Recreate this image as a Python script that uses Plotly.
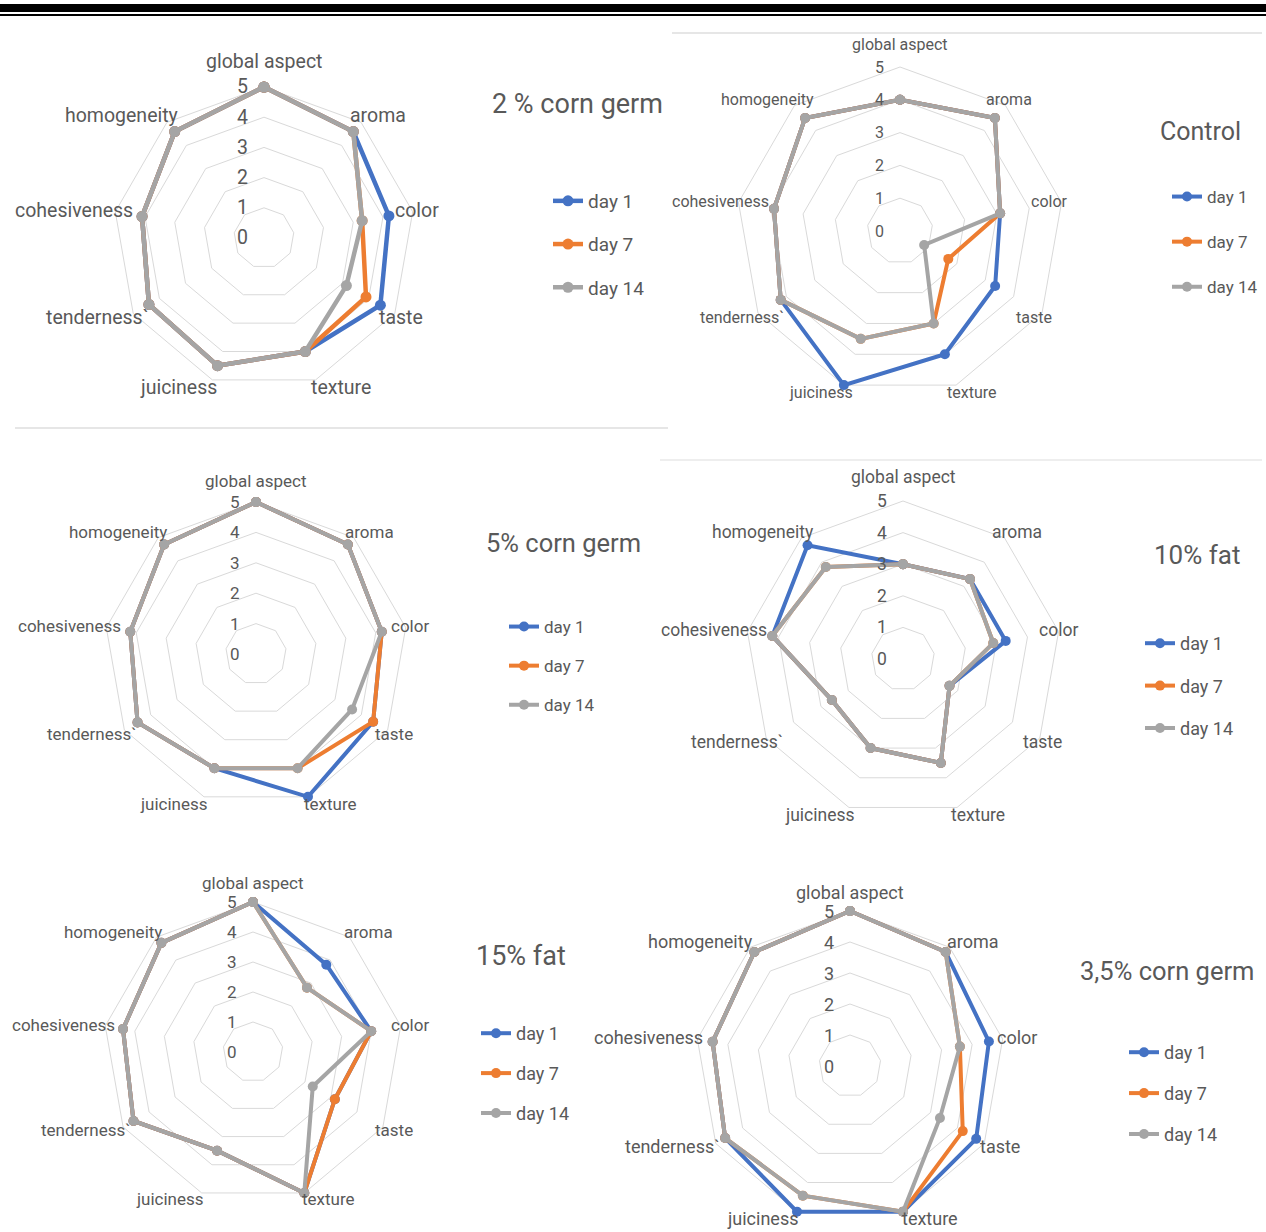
import math
import plotly.graph_objects as go

W, H = 1266, 1232

categories = ["global aspect", "aroma", "color", "taste", "texture",
              "juiciness", "tenderness`", "cohesiveness", "homogeneity"]
days = ["day 1", "day 7", "day 14"]
colors = ["#4472C4", "#ED7D31", "#A5A5A5"]
radial_ticks = [0, 1, 2, 3, 4, 5]
RMAX = 5.12  # a little head-room so lines at 5 are not clipped

# 2 % corn germ
cg2_day1 = [5, 4.6, 4.2, 4.45, 4.0, 4.5, 4.4, 4.1, 4.6]
cg2_day7 = [5, 4.6, 3.3, 3.9, 4.0, 4.5, 4.4, 4.1, 4.6]
cg2_day14 = [5, 4.6, 3.3, 3.15, 4.0, 4.5, 4.4, 4.1, 4.6]

# Control
ctl_day1 = [4.0, 4.5, 3.1, 3.35, 4.0, 5.0, 4.2, 3.9, 4.5]
ctl_day7 = [4.0, 4.5, 3.1, 1.7, 3.0, 3.5, 4.2, 3.9, 4.5]
ctl_day14 = [4.0, 4.5, 3.1, 0.85, 3.0, 3.5, 4.2, 3.9, 4.5]

# 5% corn germ
cg5_day1 = [5, 4.7, 4.2, 4.45, 5.0, 4.0, 4.5, 4.2, 4.7]
cg5_day7 = [5, 4.7, 4.2, 4.45, 4.0, 4.0, 4.5, 4.2, 4.7]
cg5_day14 = [5, 4.7, 4.2, 3.65, 4.0, 4.0, 4.5, 4.2, 4.7]

# 10% fat
f10_day1 = [3.0, 3.3, 3.3, 1.7, 3.5, 3.0, 2.6, 4.2, 4.7]
f10_day7 = [3.0, 3.3, 2.9, 1.7, 3.5, 3.0, 2.6, 4.2, 3.8]
f10_day14 = [3.0, 3.3, 2.9, 1.7, 3.5, 3.0, 2.6, 4.2, 3.8]

# 15% fat
f15_day1 = [5, 3.8, 4.0, 3.15, 5.0, 3.5, 4.6, 4.4, 4.75]
f15_day7 = [5, 2.8, 4.0, 3.15, 5.0, 3.5, 4.6, 4.4, 4.75]
f15_day14 = [5, 2.8, 4.0, 2.3, 5.0, 3.5, 4.6, 4.4, 4.75]

# 3,5% corn germ
cg35_day1 = [5, 4.8, 4.55, 4.7, 5.0, 5.0, 4.65, 4.5, 4.8]
cg35_day7 = [5, 4.8, 3.6, 4.2, 5.0, 4.45, 4.65, 4.5, 4.8]
cg35_day14 = [5, 4.8, 3.6, 3.35, 5.0, 4.45, 4.65, 4.5, 4.8]

titles = ["2 % corn germ", "Control", "5% corn germ", "10% fat", "15% fat", "3,5% corn germ"]
series = [
    [cg2_day1, cg2_day7, cg2_day14],
    [ctl_day1, ctl_day7, ctl_day14],
    [cg5_day1, cg5_day7, cg5_day14],
    [f10_day1, f10_day7, f10_day14],
    [f15_day1, f15_day7, f15_day14],
    [cg35_day1, cg35_day7, cg35_day14],
]

# panel geometry in pixels (center, radius of ring 5), fonts, title and legend placement,
# kx / ky / kt: Excel-style category label offsets as fractions of the ring-5 radius
panels = [
    dict(cx=264, cy=238, R=151, fs=19.5, tx=577, ty=104, ts=27, lx=548, ly=182, lf=19, gap=15.5,
         lw=4.5, ms=11, kx=0.865, ky=1.055, kt=1.17),
    dict(cx=900, cy=231, R=164, fs=16, tx=1200, ty=132, ts=25, lx=1167, ly=179, lf=17, gap=20,
         lw=4.0, ms=10, kx=0.80, ky=1.05, kt=1.135),
    dict(cx=256, cy=654, R=152, fs=17, tx=563, ty=543, ts=25.5, lx=504, ly=609, lf=17, gap=14,
         lw=4.0, ms=10, kx=0.89, ky=1.05, kt=1.14),
    dict(cx=903, cy=659, R=158, fs=17.5, tx=1197, ty=555, ts=26, lx=1140, ly=625, lf=18, gap=16,
         lw=4.0, ms=10, kx=0.86, ky=1.05, kt=1.15),
    dict(cx=253, cy=1052, R=150, fs=17, tx=521, ty=956, ts=27, lx=476, ly=1015, lf=18, gap=13.5,
         lw=4.0, ms=10, kx=0.92, ky=1.04, kt=1.13),
    dict(cx=850, cy=1066, R=155, fs=18, tx=1167, ty=971, ts=25.5, lx=1124, ly=1034, lf=18, gap=14.5,
         lw=4.0, ms=10, kx=0.95, ky=1.045, kt=1.12),
]

FONT = "Roboto, Open Sans, sans-serif"
TXT = "#595959"
GRID = "#D9D9D9"

fig = go.Figure()
layout_updates = {}
annotations = []


def px(x):
    return x / W


def py(y):
    return 1 - y / H


for i, (p, data) in enumerate(zip(panels, series)):
    pid = "polar" if i == 0 else f"polar{i+1}"
    lid = "legend" if i == 0 else f"legend{i+1}"
    for j, vals in enumerate(data):
        fig.add_trace(go.Scatterpolar(
            r=vals + [vals[0]],
            theta=categories + [categories[0]],
            mode="lines+markers",
            name=days[j],
            line=dict(color=colors[j], width=p["lw"]),
            marker=dict(color=colors[j], size=p["ms"]),
            cliponaxis=False,
            subplot=pid,
            legend=lid,
            legendgroup=f"{i}_{j}",
            showlegend=True,
        ))
    cx, cy, R = p["cx"], p["cy"], p["R"]
    Rd = R * RMAX / 5
    layout_updates[pid] = dict(
        domain=dict(x=[px(cx - Rd), px(cx + Rd)], y=[py(cy + Rd), py(cy - Rd)]),
        gridshape="linear",
        bgcolor="rgba(0,0,0,0)",
        radialaxis=dict(
            range=[0, RMAX], tickvals=radial_ticks, angle=90,
            showline=False, ticks="", showticklabels=False,
            gridcolor=GRID, gridwidth=1,
        ),
        angularaxis=dict(
            categoryorder="array", categoryarray=categories,
            rotation=90, direction="clockwise",
            showgrid=False, showline=False,
            ticks="", showticklabels=False,
        ),
    )
    layout_updates[lid] = dict(
        x=px(p["lx"]), y=py(p["ly"]), xanchor="left", yanchor="top",
        bgcolor="rgba(0,0,0,0)", tracegroupgap=p["gap"],
        font=dict(family=FONT, size=p["lf"], color=TXT),
    )
    annotations.append(dict(
        text=titles[i], x=px(p["tx"]), y=py(p["ty"]), xref="paper", yref="paper",
        showarrow=False, xanchor="center", yanchor="middle",
        font=dict(family=FONT, size=p["ts"], color=TXT),
    ))
    # category labels around the radar
    n = len(categories)
    for k, cat in enumerate(categories):
        th = 2 * math.pi * k / n
        s, c = math.sin(th), math.cos(th)
        if abs(s) < 1e-6:
            xa = "center"
            lxp = cx
            lyp = cy - R * p["kt"]
        else:
            xa = "left" if s > 0 else "right"
            lxp = cx + R * p["kx"] * s
            lyp = cy - R * p["ky"] * c
        annotations.append(dict(
            text=cat, x=px(lxp), y=py(lyp), xref="paper", yref="paper",
            showarrow=False, xanchor=xa, yanchor="middle",
            font=dict(family=FONT, size=p["fs"], color=TXT),
        ))
    # radial tick labels to the left of the vertical axis
    for v in radial_ticks:
        annotations.append(dict(
            text=str(v), x=px(cx), y=py(cy - R * v / 5), xref="paper", yref="paper",
            showarrow=False, xanchor="right", yanchor="middle", xshift=-14,
            font=dict(family=FONT, size=p["fs"], color=TXT),
        ))

shapes = [
    dict(type="rect", xref="paper", yref="paper", x0=0, x1=1, y0=py(12), y1=py(4),
         fillcolor="black", line=dict(width=0)),
    dict(type="line", xref="paper", yref="paper", x0=0, x1=1, y0=py(15), y1=py(15),
         line=dict(color="black", width=2)),
    dict(type="line", xref="paper", yref="paper", x0=px(672), x1=px(1262), y0=py(33), y1=py(33),
         line=dict(color="#E6E6E6", width=2)),
    dict(type="line", xref="paper", yref="paper", x0=px(15), x1=px(668), y0=py(428), y1=py(428),
         line=dict(color="#E6E6E6", width=2)),
    dict(type="line", xref="paper", yref="paper", x0=px(660), x1=px(1262), y0=py(460), y1=py(460),
         line=dict(color="#EEEEEE", width=2)),
]

fig.update_layout(
    width=W, height=H,
    margin=dict(l=0, r=0, t=0, b=0),
    paper_bgcolor="white", plot_bgcolor="white",
    font=dict(family=FONT, color=TXT),
    annotations=annotations,
    shapes=shapes,
    **layout_updates,
)

fig.write_html("out.html", config={"displayModeBar": False},
               post_script="document.body.style.margin='0px';")
